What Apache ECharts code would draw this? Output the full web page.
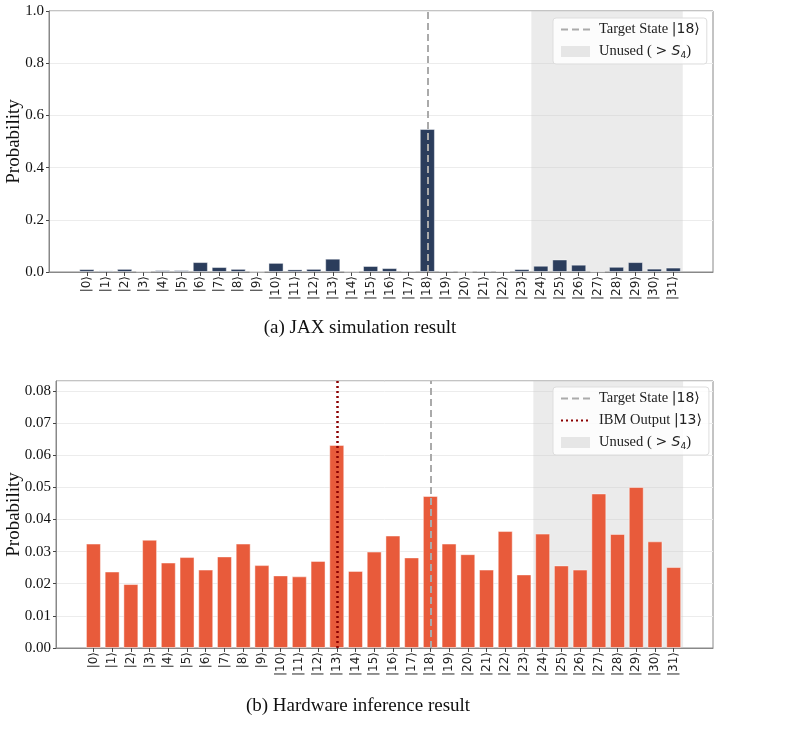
<!DOCTYPE html>
<html>
<head>
<meta charset="utf-8">
<script src="https://cdn.jsdelivr.net/npm/echarts@6/dist/echarts.min.js"></script>
<style>
html, body { margin: 0; background: #fff; }
#chart { width: 798px; height: 743px; }
</style>
</head>
<body>
<div id="chart"></div>
<script>
const states = ['|0⟩','|1⟩','|2⟩','|3⟩','|4⟩','|5⟩','|6⟩','|7⟩','|8⟩','|9⟩','|10⟩','|11⟩','|12⟩','|13⟩','|14⟩','|15⟩',
    '|16⟩','|17⟩','|18⟩','|19⟩','|20⟩','|21⟩','|22⟩','|23⟩','|24⟩','|25⟩','|26⟩','|27⟩','|28⟩','|29⟩','|30⟩','|31⟩'];
const stateIndex = [0,1,2,3,4,5,6,7,8,9,10,11,12,13,14,15,16,17,18,19,20,21,22,23,24,25,26,27,28,29,30,31];

// (a) JAX simulation
const jaxProbs = [0.011,0.006,0.012,0.002,0.007,0.007,0.038,0.019,0.012,0.0005,0.035,0.010,0.012,0.051,0.001,0.023,
    0.015,0.005,0.548,0.005,0.001,0.005,0.004,0.011,0.024,0.048,0.028,0.002,0.020,0.038,0.013,0.017];
// (b) hardware run
const ibmProbs = [0.0325,0.0238,0.0199,0.0337,0.0266,0.0283,0.0244,0.0285,0.0325,0.0258,0.0226,0.0223,0.0271,0.0632,0.0240,0.0300,
    0.0350,0.0282,0.0473,0.0325,0.0292,0.0244,0.0364,0.0229,0.0356,0.0257,0.0244,0.0481,0.0355,0.0501,0.0332,0.0252];

const targetState = 18;
const ibmOutput = 13;
const unusedRange = [23.5, 31.5];
const xRange = [-2, 33.1];
const topYMax = 1.0;
const bottomYMax = 0.0831;

const nameTarget = 'Target State |18⟩';
const nameIbm = 'IBM Output |13⟩';
const nameUnused = 'Unused ( > S4)';

const serif = "'Liberation Serif', 'Times New Roman', serif";
const sans = "'DejaVu Sans', sans-serif";

function legendLabel(name) {
    name = name.trim();
    if (name === nameUnused) {
        return '{t|Unused ( }{k|> }{i|S}{sub|4}{t|)}';
    }
    const cut = name.indexOf('|');
    return '{t|' + name.slice(0, cut) + '}{k|' + name.slice(cut) + '}';
}

const legendBase = {
    orient: 'vertical',
    left: 553,
    itemWidth: 29,
    itemHeight: 11,
    itemGap: 7,
    padding: [4, 7],
    backgroundColor: 'rgba(255,255,255,0.85)',
    borderColor: '#dddddd',
    borderWidth: 1,
    borderRadius: 3,
    formatter: legendLabel,
    textStyle: {
        fontFamily: serif,
        fontSize: 14,
        color: '#222',
        padding: [0, 0, 0, 4],
        rich: {
            t: {fontFamily: serif, fontSize: 14.5, color: '#222'},
            k: {fontFamily: sans, fontSize: 14, color: '#222'},
            i: {fontFamily: sans, fontStyle: 'italic', fontSize: 14, color: '#222'},
            sub: {fontFamily: sans, fontSize: 9, color: '#222', padding: [8, 0, 0, 0]}
        }
    }
};

// line-only legend entry (hide the symbol ECharts puts on line icons)
const lineEntry = name => ({name: name, itemStyle: {opacity: 0}});

function xAxisFor(gridIndex) {
    return {
        type: 'value',
        gridIndex: gridIndex,
        min: xRange[0],
        max: xRange[1],
        axisLine: {show: true, onZero: false, lineStyle: {color: '#888'}},
        splitLine: {show: false},
        axisTick: {show: true, length: 4, customValues: stateIndex, lineStyle: {color: '#444'}},
        axisLabel: {
            customValues: stateIndex,
            rotate: 90,
            margin: 4,
            fontFamily: sans,
            fontSize: 12,
            color: '#222',
            formatter: v => states[v]
        }
    };
}

function yAxisFor(gridIndex, max, interval, digits, nameGap, showMax) {
    return {
        type: 'value',
        gridIndex: gridIndex,
        min: 0,
        max: max,
        interval: interval,
        name: 'Probability',
        nameLocation: 'middle',
        nameGap: nameGap,
        nameMoveOverlap: false,
        nameTextStyle: {fontFamily: serif, fontSize: 19, color: '#111'},
        axisLine: {show: true, onZero: false, lineStyle: {color: '#888'}},
        axisTick: {show: true, length: 3, lineStyle: {color: '#444'}},
        splitLine: {show: true, lineStyle: {color: '#ececec'}},
        axisLabel: {
            fontFamily: serif,
            fontSize: 15,
            color: '#111',
            margin: 5,
            showMaxLabel: showMax,
            formatter: v => v.toFixed(digits)
        }
    };
}

function vLine(name, axis, value, color, type, width) {
    return {
        name: name,
        type: 'line',
        xAxisIndex: axis,
        yAxisIndex: axis,
        data: [],
        symbol: 'none',
        z: 5,
        itemStyle: {color: color},
        lineStyle: {color: color, type: type, width: width},
        markLine: {
            silent: true,
            symbol: ['none', 'none'],
            label: {show: false},
            lineStyle: {color: color, type: type, width: width},
            data: [{xAxis: value}]
        }
    };
}

function unusedArea(name, axis) {
    return {
        name: name,
        type: 'line',
        xAxisIndex: axis,
        yAxisIndex: axis,
        data: [],
        symbol: 'none',
        z: 0,
        itemStyle: {color: '#e6e6e6'},
        lineStyle: {color: '#e6e6e6'},
        markArea: {
            silent: true,
            itemStyle: {color: 'rgba(200,200,200,0.36)'},
            data: [[{xAxis: unusedRange[0]}, {xAxis: unusedRange[1]}]]
        }
    };
}

function bars(axis, values, color) {
    return {
        type: 'bar',
        xAxisIndex: axis,
        yAxisIndex: axis,
        barWidth: '80%',
        z: 2,
        itemStyle: {color: color, borderColor: 'rgba(255,255,255,0.45)', borderWidth: 1},
        data: values.map((v, i) => [stateIndex[i], v])
    };
}

const option = {
    animation: false,
    backgroundColor: '#fff',
    grid: [
        {left: 49, right: 85, top: 11, height: 261, outerBoundsMode: 'none', containLabel: false,
            show: true, borderColor: '#888', borderWidth: 1},
        {left: 56, right: 85, top: 381, height: 267, outerBoundsMode: 'none', containLabel: false,
            show: true, borderColor: '#888', borderWidth: 1}
    ],
    xAxis: [xAxisFor(0), xAxisFor(1)],
    yAxis: [
        yAxisFor(0, topYMax, 0.2, 1, 25, true),
        yAxisFor(1, bottomYMax, 0.01, 2, 32, false)
    ],
    legend: [
        Object.assign({}, legendBase, {
            top: 18,
            data: [lineEntry(nameTarget), {name: nameUnused, icon: 'rect'}]
        }),
        Object.assign({}, legendBase, {
            top: 387,
            data: [lineEntry(nameTarget + ' '), lineEntry(nameIbm), {name: nameUnused + ' ', icon: 'rect'}]
        })
    ],
    graphic: [
        {type: 'text', x: 360, y: 328, style: {text: '(a) JAX simulation result', font: '19px ' + serif, fill: '#111', textAlign: 'center', textVerticalAlign: 'middle'}},
        {type: 'text', x: 358, y: 706, style: {text: '(b) Hardware inference result', font: '19px ' + serif, fill: '#111', textAlign: 'center', textVerticalAlign: 'middle'}}
    ],
    series: [
        unusedArea(nameUnused, 0),
        bars(0, jaxProbs, '#2b3d5c'),
        vLine(nameTarget, 0, targetState, '#aaaaaa', [7, 4], 2),
        unusedArea(nameUnused + ' ', 1),
        bars(1, ibmProbs, '#e85b3b'),
        vLine(nameTarget + ' ', 1, targetState, '#aaaaaa', [7, 4], 2),
        vLine(nameIbm, 1, ibmOutput, '#8b0000', [2, 3], 2.5)
    ]
};

const chart = echarts.init(document.getElementById('chart'));
chart.setOption(option);
</script>
</body>
</html>
